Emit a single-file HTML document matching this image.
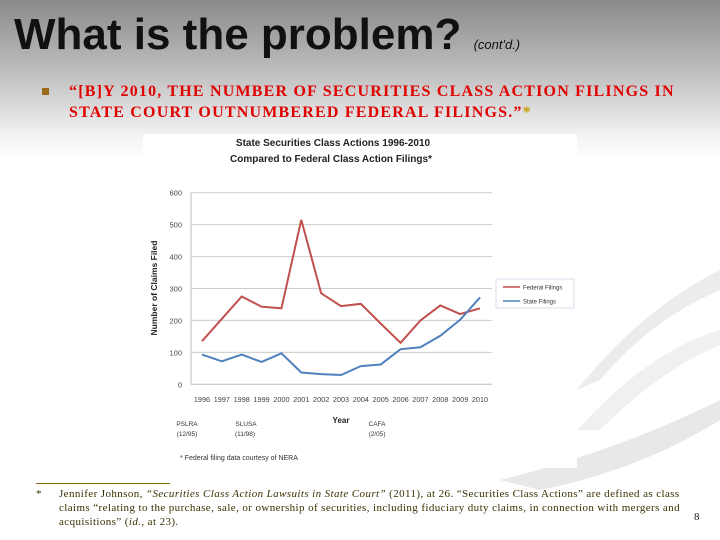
<!DOCTYPE html>
<html><head><meta charset="utf-8"><style>
body{margin:0;width:720px;height:540px;overflow:hidden;position:relative;font-family:"Liberation Sans",sans-serif;
background:linear-gradient(to bottom,#8a8a8a 0px,#bdbdbd 70px,#f2f2f2 135px,#fff 160px);}
.t{position:absolute}
</style></head><body>
<svg class="t" style="left:0;top:0" width="720" height="540">
<path d="M577 390 Q640 310 720 270 L720 290 Q650 320 600 380 Z" fill="#ececec"/>
<path d="M577 430 Q650 350 720 330 L720 345 Q660 370 600 430 Z" fill="#f0f0f0"/>
<path d="M500 480 Q620 450 720 400 L720 420 Q640 470 540 490 Z" fill="#e8e8e8"/>
</svg>
<div class="t" style="left:14px;top:10px;font-size:44px;font-weight:bold;color:#111;white-space:nowrap">What is the problem? <span style="font-size:13px;font-weight:normal;font-style:italic">(cont'd.)</span></div>
<div class="t" style="left:42px;top:88px;width:7px;height:7px;background:#9a6b1a"></div>
<div class="t" style="left:69px;top:81px;font-family:'Liberation Serif',serif;font-weight:bold;font-size:16px;letter-spacing:1.2px;line-height:21px;color:#e00000;width:630px;white-space:nowrap">“[B]Y 2010, THE NUMBER OF SECURITIES CLASS ACTION FILINGS IN<br>STATE COURT OUTNUMBERED FEDERAL FILINGS.”<span style="color:#c8a000">*</span></div>
<svg class="t" style="left:143px;top:134px" width="434" height="334" viewBox="143 134 434 334">
<rect x="143" y="134" width="434" height="334" fill="#fff"/>
<text x="333" y="146" text-anchor="middle" font-size="10" font-weight="bold" fill="#222">State Securities Class Actions 1996-2010</text>
<text x="331" y="162" text-anchor="middle" font-size="10" font-weight="bold" fill="#222">Compared to Federal Class Action Filings*</text>
<g id="grid"></g><g id="lines"></g>
<text transform="translate(157,288) rotate(-90)" text-anchor="middle" font-size="8.5" font-weight="bold" fill="#222">Number of Claims Filed</text>
<text x="341" y="423" text-anchor="middle" font-size="8" font-weight="bold" fill="#222">Year</text>
<text x="187" y="426" text-anchor="middle" font-size="6.5" fill="#333">PSLRA</text><text x="187" y="436" text-anchor="middle" font-size="6.5" fill="#333">(12/95)</text>
<text x="246" y="426" text-anchor="middle" font-size="6.5" fill="#333">SLUSA</text><text x="245" y="436" text-anchor="middle" font-size="6.5" fill="#333">(11/98)</text>
<text x="377" y="426" text-anchor="middle" font-size="6.5" fill="#333">CAFA</text><text x="377" y="436" text-anchor="middle" font-size="6.5" fill="#333">(2/05)</text>
<text x="180" y="460" font-size="7" fill="#333">* Federal filing data courtesy of NERA</text>
<rect x="496" y="279" width="78" height="29" fill="#fff" stroke="#dde"/>
<line x1="503" y1="287" x2="520" y2="287" stroke="#c0504d" stroke-width="1.5"/><text x="523" y="289.5" font-size="6" fill="#333">Federal Filings</text>
<line x1="503" y1="301" x2="520" y2="301" stroke="#4f81bd" stroke-width="1.5"/><text x="523" y="303.5" font-size="6" fill="#333">State Filings</text>
</svg>
<div class="t" style="left:36px;top:483px;width:134px;height:1px;background:#8a6a10"></div>
<div class="t" style="left:36px;top:487px;width:660px;font-family:'Liberation Serif',serif;font-size:11px;letter-spacing:0.4px;line-height:14px;color:#3a3000;white-space:nowrap"><span style="position:absolute;left:0">*</span><div style="margin-left:23px">Jennifer Johnson, <i>“Securities Class Action Lawsuits in State Court”</i> (2011), at 26. “Securities Class Actions” are defined as class<br>claims “relating to the purchase, sale, or ownership of securities, including fiduciary duty claims, in connection with mergers and<br>acquisitions” (<i>id.</i>, at 23).</div></div>
<div class="t" style="left:694px;top:511px;font-family:'Liberation Serif',serif;font-size:11px;color:#222">8</div>
<script>
const years=[1996,1997,1998,1999,2000,2001,2002,2003,2004,2005,2006,2007,2008,2009,2010];
const federal=[135,205,275,243,238,515,285,245,252,190,130,200,247,220,238];
const state=[93,72,93,70,97,37,32,29,57,62,110,116,152,202,272];
const yTicks=[0,100,200,300,400,500,600];
const NS='http://www.w3.org/2000/svg';
const x0=202,x1=480,y0=384.3,yTop=192.7;
const X=i=>x0+(x1-x0)*i/(years.length-1);
const Y=v=>y0-(y0-yTop)*v/600;
const grid=document.getElementById('grid'),lines=document.getElementById('lines');
yTicks.forEach(v=>{
 const l=document.createElementNS(NS,'line');
 
 
 l.setAttribute('x1',191);l.setAttribute('x2',492);l.setAttribute('y1',Y(v));l.setAttribute('y2',Y(v));
 l.setAttribute('stroke',v===0?'#bbb':'#ccc');grid.appendChild(l);
 const t=document.createElementNS(NS,'text');
 
 
 t.setAttribute('x',182);t.setAttribute('y',Y(v)+3);t.setAttribute('text-anchor','end');
 t.setAttribute('font-size','7.5');t.setAttribute('fill','#444');t.textContent=v;grid.appendChild(t);
});
const ax=document.createElementNS(NS,'line');


ax.setAttribute('x1',191);ax.setAttribute('x2',191);ax.setAttribute('y1',yTop);ax.setAttribute('y2',y0);ax.setAttribute('stroke','#bbb');grid.appendChild(ax);
years.forEach((yr,i)=>{
 const t=document.createElementNS(NS,'text');
 
 
 t.setAttribute('x',X(i));t.setAttribute('y',402);t.setAttribute('text-anchor','middle');
 t.setAttribute('font-size','7.3');t.setAttribute('fill','#444');t.textContent=yr;grid.appendChild(t);
});
[[federal,'#c0504d','federal-line'],[state,'#4f81bd','state-line']].forEach(([d,c,n])=>{
 const p=document.createElementNS(NS,'polyline');
 
 
 p.setAttribute('points',d.map((v,i)=>X(i)+','+Y(v)).join(' '));
 p.setAttribute('fill','none');p.setAttribute('stroke',c);p.setAttribute('stroke-width','2');
 lines.appendChild(p);
});
</script>
</body></html>
